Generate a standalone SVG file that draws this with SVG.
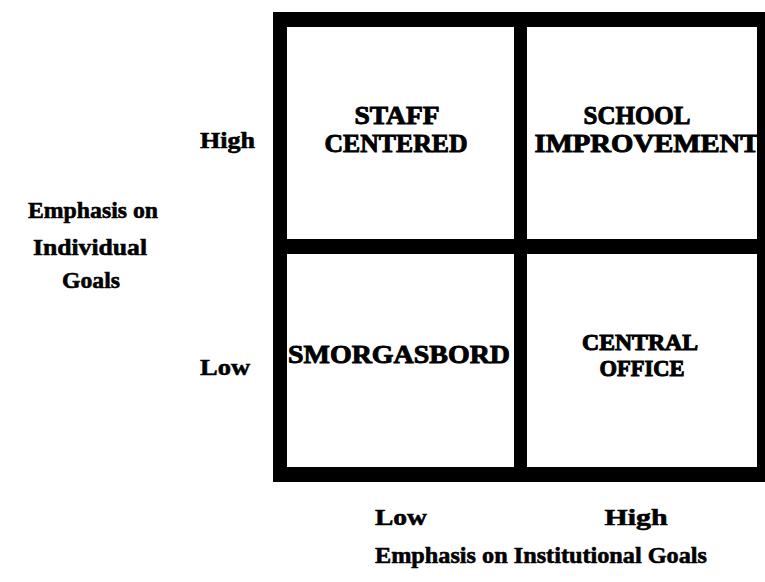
<svg xmlns="http://www.w3.org/2000/svg" width="765" height="582" viewBox="0 0 765 582">
  <style>
    .t { font-family: "Liberation Serif", "Times New Roman", serif; font-weight: bold; fill: #000; stroke: #000; stroke-width: 0.6px; }
    .q { font-size: 25px; text-anchor: middle; stroke-width: 0.9px; }
    .s { font-size: 23px; stroke-width: 1px; }
    .a { font-size: 24px; }
    .m { text-anchor: middle; }
    .bar { fill: #000; }
  </style>
  <rect width="765" height="582" fill="#fff"/>

  <!-- heavy frame and dividers of the 2x2 grid -->
  <g id="grid">
    <rect class="bar" x="273" y="12" width="500" height="15"/>
    <rect class="bar" x="273" y="467" width="500" height="15"/>
    <rect class="bar" x="273" y="12" width="14" height="470"/>
    <rect class="bar" x="757" y="12" width="16" height="470"/>
    <rect class="bar" x="514" y="12" width="13" height="470"/>
    <rect class="bar" x="273" y="239" width="500" height="15"/>
  </g>

  <g id="staff-centered">
    <text class="t q" x="397" y="124" textLength="85" lengthAdjust="spacingAndGlyphs">STAFF</text>
    <text class="t q" x="396" y="152" textLength="143" lengthAdjust="spacingAndGlyphs">CENTERED</text>
  </g>
  <g id="school-improvement">
    <text class="t q" x="637" y="124" textLength="107" lengthAdjust="spacingAndGlyphs">SCHOOL</text>
    <text class="t q" x="647" y="152" textLength="225" lengthAdjust="spacingAndGlyphs">IMPROVEMENT</text>
  </g>
  <g id="smorgasbord">
    <text class="t q" x="399" y="363" textLength="222" lengthAdjust="spacingAndGlyphs">SMORGASBORD</text>
  </g>
  <g id="central-office">
    <text class="t q s" x="640" y="350" textLength="116" lengthAdjust="spacingAndGlyphs">CENTRAL</text>
    <text class="t q s" x="642" y="376" textLength="85" lengthAdjust="spacingAndGlyphs">OFFICE</text>
  </g>

  <!-- vertical axis -->
  <g id="axis-individual">
    <text class="t a" x="200" y="148" textLength="55" lengthAdjust="spacingAndGlyphs">High</text>
    <text class="t a" x="200" y="375" textLength="50" lengthAdjust="spacingAndGlyphs">Low</text>
    <text class="t a m" x="93" y="218" textLength="130" lengthAdjust="spacingAndGlyphs">Emphasis on</text>
    <text class="t a m" x="90" y="255" textLength="114" lengthAdjust="spacingAndGlyphs">Individual</text>
    <text class="t a m" x="91" y="288" textLength="58" lengthAdjust="spacingAndGlyphs">Goals</text>
  </g>

  <!-- horizontal axis -->
  <g id="axis-institutional">
    <text class="t a m" x="401" y="525" textLength="52" lengthAdjust="spacingAndGlyphs">Low</text>
    <text class="t a m" x="636" y="525" textLength="63" lengthAdjust="spacingAndGlyphs">High</text>
    <text class="t a m" x="541" y="563" textLength="332" lengthAdjust="spacingAndGlyphs">Emphasis on Institutional Goals</text>
  </g>
</svg>
